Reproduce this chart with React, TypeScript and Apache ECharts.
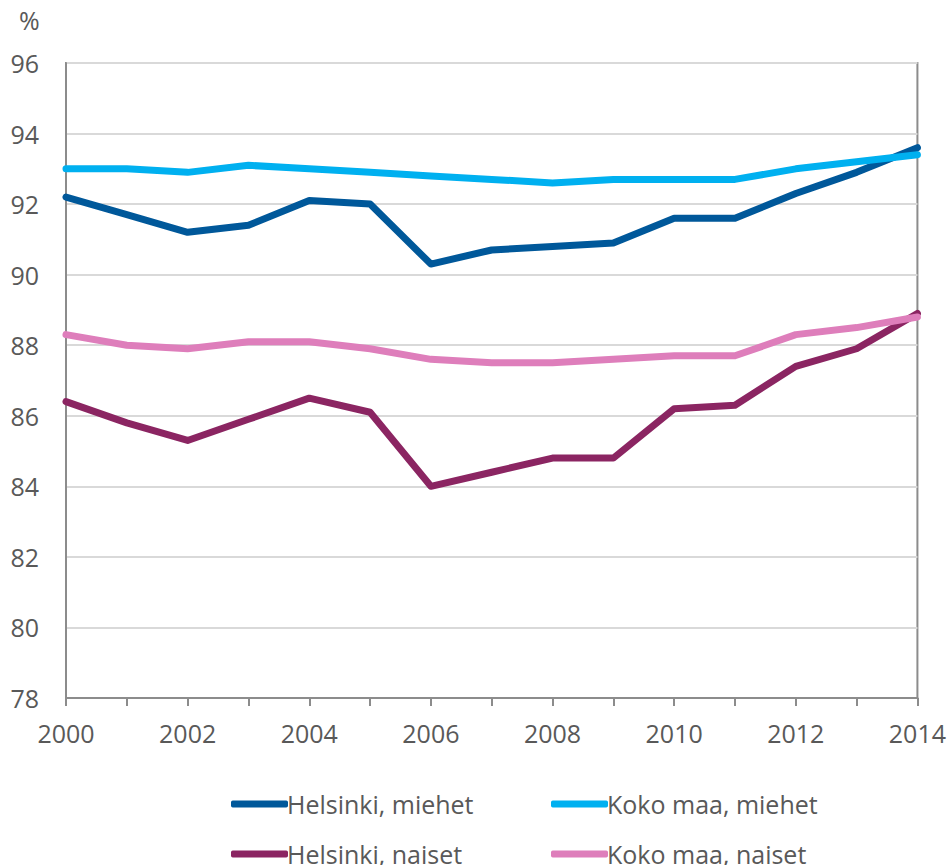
import React, { useEffect, useRef } from "react";
import * as echarts from "echarts";

const years = ["2000","2001","2002","2003","2004","2005","2006","2007","2008","2009","2010","2011","2012","2013","2014"];
const helsinkiMiehet = [92.2, 91.7, 91.2, 91.4, 92.1, 92.0, 90.3, 90.7, 90.8, 90.9, 91.6, 91.6, 92.3, 92.9, 93.6];
const kokoMaaMiehet = [93.0, 93.0, 92.9, 93.1, 93.0, 92.9, 92.8, 92.7, 92.6, 92.7, 92.7, 92.7, 93.0, 93.2, 93.4];
const helsinkiNaiset = [86.4, 85.8, 85.3, 85.9, 86.5, 86.1, 84.0, 84.4, 84.8, 84.8, 86.2, 86.3, 87.4, 87.9, 88.9];
const kokoMaaNaiset = [88.3, 88.0, 87.9, 88.1, 88.1, 87.9, 87.6, 87.5, 87.5, 87.6, 87.7, 87.7, 88.3, 88.5, 88.8];

const FONT = "'Open Sans', 'Noto Sans', sans-serif";
const TXT = "#595959";

export default function App() {
  const ref = useRef<HTMLDivElement>(null);
  useEffect(() => {
    if (!ref.current) return;
    const chart = echarts.init(ref.current, null, { renderer: "svg" });
    const mk = (name: string, data: number[], color: string) => ({
      name,
      type: "line",
      data,
      showSymbol: false,
      symbol: "none",
      lineStyle: { color, width: 7, cap: "round", join: "round" },
      itemStyle: { color },
    });
    const leg = (name: string, left: number, cy: number) => ({
      orient: "horizontal",
      left,
      top: cy - 16,
      itemWidth: 57,
      itemHeight: 7,
      padding: 0,
      textStyle: { color: TXT, fontSize: 25, fontFamily: FONT, lineHeight: 32, padding: [0, 0, 0, -6] },
      icon: "roundRect",
      data: [name],
    });
    chart.setOption({
      animation: false,
      backgroundColor: "#ffffff",
      grid: {
        left: 66, right: 30, top: 63, bottom: 167,
        show: true, borderColor: "#8c8c8c", borderWidth: 2,
      },
      graphic: [
        { type: "text", left: 19, top: 7, style: { text: "%", fill: TXT, font: "25px " + FONT } },
      ],
      legend: [
        leg("Helsinki, miehet", 231, 804),
        leg("Helsinki, naiset", 231, 854),
        leg("Koko maa, miehet", 551, 804),
        leg("Koko maa, naiset", 551, 854),
      ],
      xAxis: {
        type: "category",
        data: years,
        boundaryGap: false,
        axisLine: { lineStyle: { color: "#8c8c8c", width: 2 } },
        axisTick: { show: true, interval: 0, length: 8, lineStyle: { color: "#8c8c8c", width: 2 } },
        axisLabel: { interval: 1, color: TXT, fontSize: 25, fontFamily: FONT, margin: 22 },
        splitLine: { show: false },
      },
      yAxis: {
        type: "value",
        min: 78,
        max: 96,
        interval: 2,
        axisLine: { show: true, lineStyle: { color: "#8c8c8c", width: 2 } },
        axisTick: { show: false },
        axisLabel: { color: TXT, fontSize: 25, fontFamily: FONT, margin: 27 },
        splitLine: { lineStyle: { color: "#d9d9d9", width: 2 } },
      },
      series: [
        mk("Helsinki, miehet", helsinkiMiehet, "#00589a"),
        mk("Koko maa, miehet", kokoMaaMiehet, "#00b0f0"),
        mk("Helsinki, naiset", helsinkiNaiset, "#8b2562"),
        mk("Koko maa, naiset", kokoMaaNaiset, "#de7ebb"),
      ],
    });
    return () => chart.dispose();
  }, []);
  return <div ref={ref} style={{ width: 949, height: 865, position: "absolute", left: 0, top: 0 }} />;
}
